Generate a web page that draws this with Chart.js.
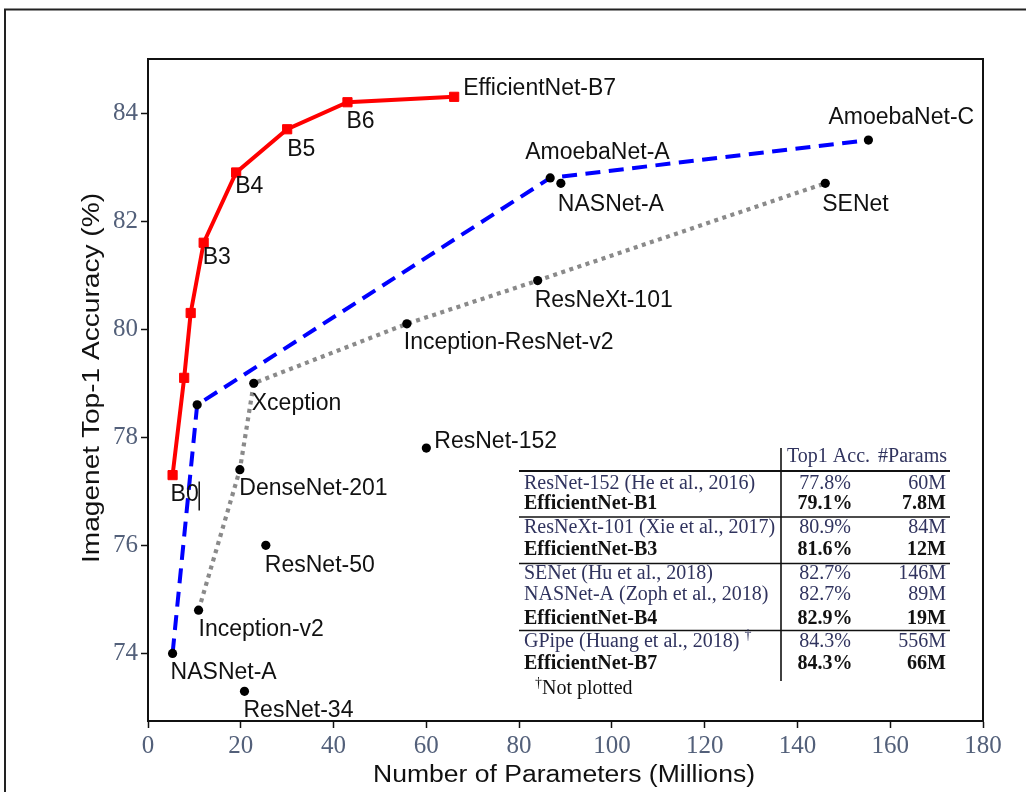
<!DOCTYPE html>
<html>
<head>
<meta charset="utf-8">
<script src="https://cdn.jsdelivr.net/npm/chart.js@4/dist/chart.umd.min.js"></script>
<style>
  html, body { margin: 0; padding: 0; background: #fff; }
  canvas { display: block; }
</style>
</head>
<body>
<canvas id="c" width="1026" height="792"></canvas>
<script>
// ---- EfficientNet family (red) ----
const effNames  = ['B0', '', '', 'B3', 'B4', 'B5', 'B6', 'EfficientNet-B7'];
const effParams = [5.3, 7.8, 9.2, 12, 19, 30, 43, 66];
const effAcc    = [77.3, 79.1, 80.3, 81.6, 82.9, 83.7, 84.2, 84.3];

// ---- NASNet / AmoebaNet frontier (blue dashed) ----
const amoebaNames  = ['NASNet-A', '', 'AmoebaNet-A', 'AmoebaNet-C'];
const amoebaParams = [5.3, 10.6, 86.7, 155.3];
const amoebaAcc    = [74.0, 78.6, 82.8, 83.5];

// ---- Inception / ResNeXt / SENet frontier (gray dotted) ----
const incNames  = ['Inception-v2', 'DenseNet-201', 'Xception', 'Inception-ResNet-v2', 'ResNeXt-101', 'SENet'];
const incParams = [10.9, 19.8, 22.8, 55.8, 84, 146];
const incAcc    = [74.8, 77.4, 79.0, 80.1, 80.9, 82.7];

// ---- other single models ----
const otherNames  = ['NASNet-A', 'ResNet-152', 'ResNet-50', 'ResNet-34'];
const otherParams = [89, 60, 25.4, 20.8];
const otherAcc    = [82.7, 77.8, 76.0, 73.3];

// ---- axes ----
const xTicks = [0, 20, 40, 60, 80, 100, 120, 140, 160, 180];
const yTicks = [74, 76, 78, 80, 82, 84];

// ---- comparison table ----
const tableHeader = ['Top1 Acc.', '#Params'];
const tableModels = ['ResNet-152 (He et al., 2016)', 'EfficientNet-B1',
                     'ResNeXt-101 (Xie et al., 2017)', 'EfficientNet-B3',
                     'SENet (Hu et al., 2018)', 'NASNet-A (Zoph et al., 2018)', 'EfficientNet-B4',
                     'GPipe (Huang et al., 2018)', 'EfficientNet-B7'];
const tableAcc    = ['77.8%', '79.1%', '80.9%', '81.6%', '82.7%', '82.7%', '82.9%', '84.3%', '84.3%'];
const tableParams = ['60M', '7.8M', '84M', '12M', '146M', '89M', '19M', '556M', '66M'];
const tableBold   = [false, true, false, true, false, false, true, false, true];
const tableDagger = [false, false, false, false, false, false, false, true, false];
const tableNote   = 'Not plotted';

// label placement relative to each point (pixels: dx, dy to text middle-left)
const effOffsets    = [[-2, 19.5], null, null, [-1, 15], [-1, 14], [0, 20], [-1, 19], [9, -8.5]];
const amoebaOffsets = [[-2, 19], null, [-25, -25.5], [-40, -22]];
const incOffsets    = [[0, 19.5], [-0.5, 19], [-2, 20], [-3, 19], [-3, 20], [-3, 21]];
const otherOffsets  = [[-3, 21], [8, -6.5], [-1, 20], [-1, 19]];

const toPoints = (xs, ys) => xs.map((x, i) => ({ x: x, y: ys[i] }));

const LABEL_FONT = '23px "Liberation Sans", Arial, sans-serif';
const TICK_FONT  = { family: '"Liberation Serif", "Times New Roman", serif', size: 25 };
const TICK_COLOR = '#53607a';

// page frame, plot box, axis titles, point labels and the table
const decorations = {
  id: 'decorations',
  beforeDraw(chart) {
    const ctx = chart.ctx;
    ctx.save();
    ctx.fillStyle = '#fff';
    ctx.fillRect(0, 0, chart.width, chart.height);
    ctx.strokeStyle = '#222';
    ctx.lineWidth = 2;
    ctx.strokeRect(5, 9.5, 1100, 900);
    ctx.restore();
  },
  afterDraw(chart) {
    const ctx = chart.ctx;
    const a = chart.chartArea;
    ctx.save();

    // plot box
    ctx.strokeStyle = '#111';
    ctx.lineWidth = 2;
    ctx.strokeRect(a.left, a.top, a.right - a.left, a.bottom - a.top);

    // axis titles
    ctx.fillStyle = '#111';
    ctx.font = LABEL_FONT;
    ctx.textBaseline = 'alphabetic';
    ctx.textAlign = 'left';
    const drawStretched = (text, width) => {
      const w = ctx.measureText(text).width;
      ctx.scale(width / w, 1);
      ctx.fillText(text, 0, 0);
    };
    ctx.save();
    ctx.translate(373, 782);
    drawStretched('Number of Parameters (Millions)', 382);
    ctx.restore();
    ctx.save();
    ctx.translate(98.5, 563);
    ctx.rotate(-Math.PI / 2);
    drawStretched('Imagenet Top-1 Accuracy (%)', 370);
    ctx.restore();

    // point labels
    ctx.textBaseline = 'middle';
    chart.data.datasets.forEach((ds, di) => {
      const meta = chart.getDatasetMeta(di);
      ds.names.forEach((name, i) => {
        const off = ds.offsets[i];
        if (!name || !off) return;
        const p = meta.data[i];
        const tx = p.x + off[0], ty = p.y + off[1];
        ctx.fillText(name, tx, ty);
        if (name === 'B0') {
          const w = ctx.measureText(name).width;
          ctx.beginPath();
          ctx.lineWidth = 1.5;
          ctx.moveTo(tx + w + 0.5, ty - 13);
          ctx.lineTo(tx + w + 0.5, ty + 16);
          ctx.stroke();
        }
      });
    });

    // comparison table
    const serif = '"Liberation Serif", "Times New Roman", serif';
    const left = 524, ruleL = 519, ruleR = 950, accC = 825, parR = 946, divX = 781;
    const rowY = [483.5, 503.5, 528, 549.5, 573.5, 595, 618.5, 641.5, 664];
    const rules = [[471, 2], [517, 1.6], [563.5, 1.6], [630.5, 1.6]];
    const normal = '#30335e';

    ctx.strokeStyle = '#111';
    rules.forEach(([y, w]) => {
      ctx.lineWidth = w;
      ctx.beginPath(); ctx.moveTo(ruleL, y); ctx.lineTo(ruleR, y); ctx.stroke();
    });
    ctx.lineWidth = 1.6;
    ctx.beginPath(); ctx.moveTo(divX, 448); ctx.lineTo(divX, 681); ctx.stroke();

    ctx.font = '20px ' + serif;
    ctx.fillStyle = normal;
    ctx.textAlign = 'left';
    ctx.fillText(tableHeader[0], 787, 457);
    ctx.textAlign = 'right';
    ctx.fillText(tableHeader[1], parR + 1, 457);

    tableModels.forEach((m, i) => {
      const y = rowY[i];
      ctx.font = (tableBold[i] ? 'bold ' : '') + '20px ' + serif;
      ctx.fillStyle = tableBold[i] ? '#111' : normal;
      ctx.textAlign = 'left';
      ctx.fillText(m, left, y);
      if (tableDagger[i]) {
        const w = ctx.measureText(m).width;
        ctx.font = '14px ' + serif;
        ctx.fillText('\u2020', left + w + 5, y - 6);
        ctx.font = (tableBold[i] ? 'bold ' : '') + '20px ' + serif;
      }
      ctx.textAlign = 'center';
      ctx.fillText(tableAcc[i], accC, y);
      ctx.textAlign = 'right';
      ctx.fillText(tableParams[i], parR, y);
    });

    ctx.fillStyle = '#111';
    ctx.textAlign = 'left';
    ctx.font = '14px ' + serif;
    ctx.fillText('\u2020', 535, 683);
    ctx.font = '20px ' + serif;
    ctx.fillText(tableNote, 542, 689);

    ctx.restore();
  }
};

new Chart(document.getElementById('c'), {
  type: 'scatter',
  data: {
    datasets: [
      {
        names: incNames, offsets: incOffsets,
        data: toPoints(incParams, incAcc),
        showLine: true,
        borderColor: '#8a8a8a', borderWidth: 4.2, borderDash: [4, 4.5], borderCapStyle: 'butt',
        pointRadius: 4.6, pointBackgroundColor: '#000', pointBorderWidth: 0
      },
      {
        names: amoebaNames, offsets: amoebaOffsets,
        data: toPoints(amoebaParams, amoebaAcc),
        showLine: true,
        borderColor: '#0000ff', borderWidth: 4, borderDash: [15, 8.5], borderCapStyle: 'butt',
        pointRadius: 4.6, pointBackgroundColor: '#000', pointBorderWidth: 0
      },
      {
        names: effNames, offsets: effOffsets,
        data: toPoints(effParams, effAcc),
        showLine: true,
        borderColor: '#ff0000', borderWidth: 4,
        pointStyle: 'rect', pointRadius: 6.5,
        pointBackgroundColor: '#ff0000', pointBorderColor: '#ff0000', pointBorderWidth: 1
      },
      {
        names: otherNames, offsets: otherOffsets,
        data: toPoints(otherParams, otherAcc),
        showLine: false,
        pointRadius: 4.6, pointBackgroundColor: '#000', pointBorderWidth: 0
      }
    ]
  },
  options: {
    responsive: false,
    devicePixelRatio: 1,
    animation: false,
    events: [],
    layout: { padding: { top: 59, right: 43, left: 0, bottom: 0 } },
    plugins: { legend: { display: false }, tooltip: { enabled: false } },
    scales: {
      x: {
        type: 'linear', min: 0, max: 180,
        afterBuildTicks: s => { s.ticks = xTicks.map(v => ({ value: v })); },
        afterFit: s => { s.height = 71; },
        ticks: { font: TICK_FONT, color: TICK_COLOR, padding: 3, maxRotation: 0, autoSkip: false },
        grid: { drawOnChartArea: false, tickLength: 7, tickColor: '#111', tickWidth: 1.5 },
        border: { color: '#111', width: 2 }
      },
      y: {
        type: 'linear', min: 72.75, max: 85,
        afterBuildTicks: s => { s.ticks = yTicks.map(v => ({ value: v })); },
        afterFit: s => { s.width = 148; },
        ticks: { font: TICK_FONT, color: TICK_COLOR, padding: 3, autoSkip: false },
        grid: { drawOnChartArea: false, tickLength: 7, tickColor: '#111', tickWidth: 1.5 },
        border: { color: '#111', width: 2 }
      }
    }
  },
  plugins: [decorations]
});
</script>
</body>
</html>
